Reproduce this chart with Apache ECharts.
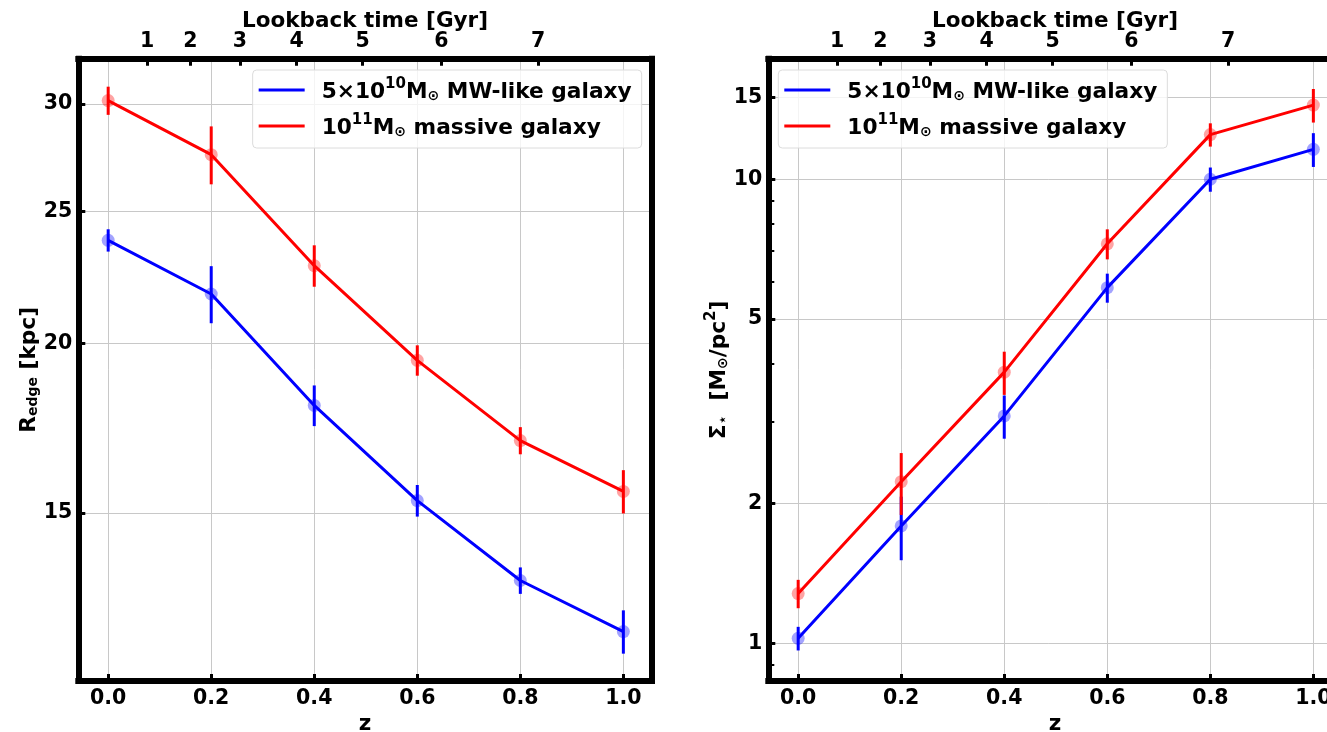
<!DOCTYPE html>
<html>
<head>
<meta charset="utf-8">
<script src="https://cdn.jsdelivr.net/npm/echarts@6/dist/echarts.min.js"></script>
<style>
  html, body { margin: 0; padding: 0; background: #ffffff; }
  #chart { width: 1327px; height: 732px; }
</style>
</head>
<body>
<div id="chart"></div>
<script>
// ---- data ----
const redshift = [0.0, 0.2, 0.4, 0.6, 0.8, 1.0];
const redshiftTicks = [0.0, 0.2, 0.4, 0.6, 0.8, 1.0];

// lookback-time ticks on the top axis, placed at their redshift
const lookbackTickZ = [0.0758, 0.1596, 0.2556, 0.3658, 0.4941, 0.6468, 0.8347];
const lookbackTickLabels = ['1', '2', '3', '4', '5', '6', '7'];

// disc edge radius [kpc]
const rEdgeMW = [23.81, 21.74, 18.0, 15.32, 13.38, 12.27];
const rEdgeMWErr = [0.45, 1.05, 0.62, 0.41, 0.30, 0.45];
const rEdgeMassive = [30.17, 27.53, 22.81, 19.43, 16.96, 15.56];
const rEdgeMassiveErr = [0.72, 1.35, 0.80, 0.50, 0.39, 0.57];

// stellar surface density at the edge [Msun/pc^2]
const sigmaMW = [1.025, 1.79, 3.09, 5.84, 10.0, 11.6];
const sigmaMWErr = [0.06, 0.28, 0.33, 0.42, 0.60, 0.97];
const sigmaMassive = [1.28, 2.23, 3.84, 7.26, 12.48, 14.45];
const sigmaMassiveErr = [0.09, 0.34, 0.41, 0.54, 0.72, 1.20];

const rEdgeTicks = [15, 20, 25, 30];
const sigmaTicks = [1, 2, 5, 10, 15];
const sigmaMinorTicks = [0.9, 3, 4, 6, 7, 8, 9];

const NAME_MW = '5×10¹⁰M⊙ MW-like galaxy';
const NAME_MASSIVE = '10¹¹M⊙ massive galaxy';

// ---- styling ----
const FONT = 'DejaVu Sans';
const BLUE = '#0000ff';
const RED = '#ff0000';
const Z_RANGE = [-0.058, 1.055];
const R_RANGE = [11.285, 32.39];
const SIGMA_RANGE = [0.8293, 18.19];
const GRID_COLOR = '#c8c8c8';
const FRAME_WIDTH = 6;

const tickText = { fontFamily: FONT, fontWeight: 'bold', fontSize: 20.5, color: '#000' };
const titleText = { fontFamily: FONT, fontWeight: 'bold', fontSize: 21.5, color: '#000' };

const richBase = {
  b: { fontFamily: FONT, fontWeight: 'bold', fontSize: 21.7, lineHeight: 26, verticalAlign: 'bottom', color: '#000' },
  s: { fontFamily: FONT, fontWeight: 'bold', fontSize: 14, lineHeight: 14, verticalAlign: 'bottom', color: '#000' },
  p: { fontFamily: FONT, fontWeight: 'bold', fontSize: 15, lineHeight: 15, verticalAlign: 'top', color: '#000' }
};

function pairs(xs, ys, es) {
  return xs.map((x, i) => es ? [x, ys[i], es[i]] : [x, ys[i]]);
}

function frameLine() {
  return { show: true, onZero: false, lineStyle: { color: '#000', width: FRAME_WIDTH, cap: 'square' } };
}

function bottomAxis(grid) {
  return {
    type: 'value', gridIndex: grid, position: 'bottom', min: Z_RANGE[0], max: Z_RANGE[1],
    name: 'z', nameLocation: 'middle', nameGap: 27, nameTextStyle: titleText,
    axisLine: frameLine(),
    axisTick: { show: true, inside: true, length: 7, customValues: redshiftTicks, lineStyle: { color: '#000', width: 3 } },
    axisLabel: { show: true, margin: 7, customValues: redshiftTicks, formatter: v => v.toFixed(1), ...tickText },
    splitLine: { show: true, lineStyle: { color: GRID_COLOR, width: 1 } }
  };
}

function topAxis(grid) {
  return {
    type: 'value', gridIndex: grid, position: 'top', min: Z_RANGE[0], max: Z_RANGE[1],
    name: 'Lookback time [Gyr]', nameLocation: 'middle', nameGap: 26, nameMoveOverlap: false,
    nameTextStyle: titleText,
    axisLine: frameLine(),
    axisTick: { show: true, inside: true, length: 7, customValues: lookbackTickZ, lineStyle: { color: '#000', width: 3 } },
    axisLabel: {
      show: true, margin: 7, customValues: lookbackTickZ, ...tickText,
      formatter: v => {
        let best = 0;
        lookbackTickZ.forEach((z, i) => { if (Math.abs(z - v) < Math.abs(lookbackTickZ[best] - v)) best = i; });
        return lookbackTickLabels[best];
      }
    },
    splitLine: { show: false }
  };
}

function mainYAxis(grid, range, ticks, name, gap) {
  return {
    type: 'log', logBase: 10, gridIndex: grid, position: 'left', min: range[0], max: range[1],
    name: name, nameLocation: 'middle', nameRotate: 90, nameGap: gap,
    nameTextStyle: { rich: richBase },
    axisLine: frameLine(),
    axisTick: { show: true, inside: true, length: 7, customValues: ticks, lineStyle: { color: '#000', width: 3 } },
    axisLabel: { show: true, margin: 6, customValues: ticks, formatter: v => String(Math.round(v)), ...tickText },
    splitLine: { show: true, lineStyle: { color: GRID_COLOR, width: 1 } },
    minorTick: { show: false }
  };
}

function rightFrameAxis(grid, range) {
  return {
    type: 'log', gridIndex: grid, position: 'right', min: range[0], max: range[1],
    axisLine: frameLine(), axisTick: { show: false }, axisLabel: { show: false }, splitLine: { show: false }
  };
}

function errorBars(name, xi, yi, data, color) {
  return {
    type: 'custom', name: name, xAxisIndex: xi, yAxisIndex: yi, data: data,
    encode: { x: 0, y: 1 }, silent: true,
    renderItem: (params, api) => {
      const x = api.value(0), y = api.value(1), e = api.value(2);
      const lo = api.coord([x, y - e]);
      const hi = api.coord([x, y + e]);
      return {
        type: 'line',
        shape: { x1: lo[0], y1: lo[1], x2: hi[0], y2: hi[1] },
        style: { stroke: color, lineWidth: 3 }
      };
    }
  };
}

function markers(name, xi, yi, data, color) {
  return {
    type: 'scatter', name: name, xAxisIndex: xi, yAxisIndex: yi, data: data,
    symbol: 'circle', symbolSize: 13, itemStyle: { color: color, opacity: 0.36 }, silent: true
  };
}

function trend(name, xi, yi, data, color) {
  return {
    type: 'line', name: name, xAxisIndex: xi, yAxisIndex: yi, data: data,
    symbol: 'none', lineStyle: { color: color, width: 3 }, itemStyle: { color: color }, silent: true
  };
}

function legendBlock(pos) {
  return Object.assign({
    data: [{ name: NAME_MW, icon: 'rect' }, { name: NAME_MASSIVE, icon: 'rect' }],
    orient: 'vertical', top: 70,
    itemWidth: 46, itemHeight: 3, itemGap: 10,
    padding: [7, 10, 9, 6],
    backgroundColor: 'rgba(255,255,255,0.8)', borderColor: '#dcdcdc', borderWidth: 1, borderRadius: 4,
    selectedMode: false,
    textStyle: {
      padding: [0, 0, 0, 12],
      rich: richBase
    },
    formatter: name => name === NAME_MW
      ? '{b|5×10}{p|10}{b|M}{s|⊙}{b| MW-like galaxy}'
      : '{b|10}{p|11}{b|M}{s|⊙}{b| massive galaxy}'
  }, pos);
}

const option = {
  animation: false,
  backgroundColor: '#ffffff',
  grid: [
    { left: 78.3, top: 58.7, width: 573.4, height: 622.3, containLabel: false, outerBoundsMode: 'none' },
    { left: 768.3, top: 58.7, width: 573.4, height: 622.3, containLabel: false, outerBoundsMode: 'none' }
  ],
  xAxis: [bottomAxis(0), topAxis(0), bottomAxis(1), topAxis(1)],
  yAxis: [
    mainYAxis(0, R_RANGE, rEdgeTicks, '{b|R}{s|edge}{b| [kpc]}', 36),
    rightFrameAxis(0, R_RANGE),
    mainYAxis(1, SIGMA_RANGE, sigmaTicks, '{b|Σ}{s|⋆}{b|  [M}{s|⊙}{b|/pc}{p|2}{b|]}', 36),
    rightFrameAxis(1, SIGMA_RANGE),
    {
      type: 'log', gridIndex: 1, position: 'left', min: SIGMA_RANGE[0], max: SIGMA_RANGE[1],
      axisLine: { show: false, onZero: false },
      axisTick: { show: true, inside: true, length: 6, customValues: sigmaMinorTicks, lineStyle: { color: '#000', width: 2 } },
      axisLabel: { show: false }, splitLine: { show: false }
    }
  ],
  legend: [legendBlock({ right: 685.3 }), legendBlock({ left: 778.3 })],
  series: [
    markers('MW edge points', 0, 0, pairs(redshift, rEdgeMW), BLUE),
    trend(NAME_MW, 0, 0, pairs(redshift, rEdgeMW), BLUE),
    errorBars('MW edge errors', 0, 0, pairs(redshift, rEdgeMW, rEdgeMWErr), BLUE),
    markers('Massive edge points', 0, 0, pairs(redshift, rEdgeMassive), RED),
    trend(NAME_MASSIVE, 0, 0, pairs(redshift, rEdgeMassive), RED),
    errorBars('Massive edge errors', 0, 0, pairs(redshift, rEdgeMassive, rEdgeMassiveErr), RED),

    markers('MW density points', 2, 2, pairs(redshift, sigmaMW), BLUE),
    trend(NAME_MW, 2, 2, pairs(redshift, sigmaMW), BLUE),
    errorBars('MW density errors', 2, 2, pairs(redshift, sigmaMW, sigmaMWErr), BLUE),
    markers('Massive density points', 2, 2, pairs(redshift, sigmaMassive), RED),
    trend(NAME_MASSIVE, 2, 2, pairs(redshift, sigmaMassive), RED),
    errorBars('Massive density errors', 2, 2, pairs(redshift, sigmaMassive, sigmaMassiveErr), RED)
  ]
};

const chart = echarts.init(document.getElementById('chart'), null, { renderer: 'canvas' });
chart.setOption(option);
</script>
</body>
</html>
